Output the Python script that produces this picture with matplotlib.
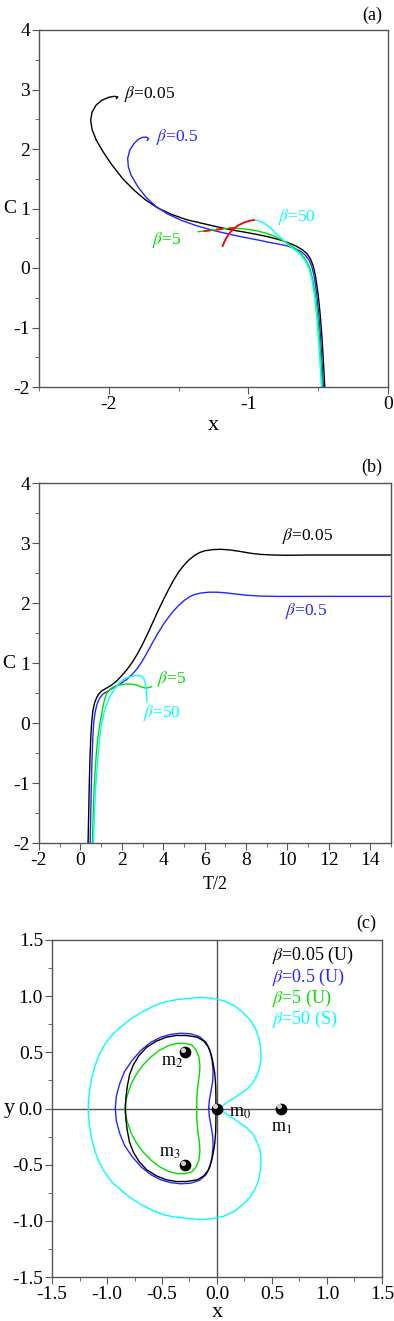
import numpy as np
import matplotlib
matplotlib.use('Agg')
import matplotlib.pyplot as plt
from matplotlib.ticker import MultipleLocator, FormatStrFormatter

plt.rcParams['font.family'] = ['Liberation Serif', 'DejaVu Serif']
plt.rcParams['mathtext.fontset'] = 'stix'
plt.rcParams['axes.unicode_minus'] = False

# --- панель (a): C от x ---
a_x_005 = [-0.453, -0.462, -0.472, -0.485, -0.500, -0.518, -0.535, -0.555, -0.58, -0.615, -0.66, -0.71,
           -0.77, -0.85, -0.93, -1.02, -1.12, -1.22, -1.33, -1.44, -1.55, -1.65, -1.74, -1.82, -1.90,
           -1.98, -2.04, -2.09, -2.12, -2.13, -2.12, -2.09, -2.05, -2.00, -1.96, -1.935, -1.945]
a_c_005 = [-2.0, -1.6, -1.2, -0.8, -0.45, -0.15, 0.03, 0.15, 0.24, 0.31, 0.37, 0.42,
           0.47, 0.52, 0.56, 0.60, 0.64, 0.69, 0.75, 0.81, 0.90, 1.01, 1.15, 1.31, 1.50,
           1.74, 1.95, 2.15, 2.33, 2.48, 2.62, 2.74, 2.82, 2.87, 2.885, 2.875, 2.85]

a_x_05 = [-0.463, -0.472, -0.482, -0.495, -0.51, -0.528, -0.545, -0.565, -0.59, -0.625, -0.67, -0.72,
          -0.78, -0.85, -0.93, -1.02, -1.12, -1.25, -1.37, -1.48, -1.58, -1.66, -1.73, -1.79, -1.84,
          -1.86, -1.865, -1.85, -1.82, -1.79, -1.76, -1.73, -1.715, -1.725]
a_c_05 = [-2.0, -1.6, -1.2, -0.8, -0.45, -0.15, 0.02, 0.13, 0.21, 0.28, 0.33, 0.37,
          0.40, 0.43, 0.47, 0.51, 0.56, 0.63, 0.71, 0.80, 0.91, 1.03, 1.18, 1.36, 1.56,
          1.70, 1.84, 1.98, 2.09, 2.16, 2.195, 2.20, 2.175, 2.145]

a_x_5 = [-0.470, -0.479, -0.49, -0.503, -0.52, -0.54, -0.56, -0.585, -0.62, -0.66, -0.71, -0.76,
         -0.82, -0.88, -0.95, -1.02, -1.09, -1.16, -1.23, -1.30, -1.36]
a_c_5 = [-2.0, -1.6, -1.2, -0.8, -0.45, -0.18, 0.0, 0.12, 0.23, 0.32, 0.40, 0.47,
         0.54, 0.59, 0.63, 0.655, 0.67, 0.665, 0.645, 0.625, 0.61]

a_x_50 = [-0.477, -0.487, -0.498, -0.512, -0.527, -0.545, -0.565, -0.59, -0.625, -0.67, -0.72, -0.77,
          -0.82, -0.86, -0.90, -0.93, -0.96, -0.99, -1.03, -1.07, -1.10, -1.13, -1.155, -1.172, -1.185]
a_c_50 = [-2.0, -1.6, -1.2, -0.8, -0.45, -0.2, -0.02, 0.11, 0.22, 0.31, 0.40, 0.51,
          0.62, 0.71, 0.77, 0.80, 0.805, 0.795, 0.765, 0.72, 0.67, 0.60, 0.52, 0.44, 0.37]

# --- панель (b): C от T/2 ---
b_t_005 = [0.37, 0.40, 0.43, 0.46, 0.50, 0.54, 0.60, 0.68, 0.78, 0.90, 1.05, 1.25, 1.5, 1.75, 2.0,
           2.25, 2.5, 2.75, 3.0, 3.25, 3.5, 3.75, 4.0, 4.25, 4.5, 4.75, 5.0, 5.25, 5.5, 5.75, 6.0,
           6.4, 6.8, 7.2, 7.7, 8.2, 8.7, 9.3, 10.0, 11.0, 12.5, 15.0]
b_c_005 = [-2.0, -1.5, -1.0, -0.6, -0.25, 0.0, 0.20, 0.33, 0.42, 0.49, 0.54, 0.58, 0.63, 0.70, 0.79,
           0.89, 1.01, 1.15, 1.31, 1.49, 1.68, 1.87, 2.05, 2.22, 2.38, 2.52, 2.63, 2.72, 2.79, 2.84, 2.87,
           2.89, 2.895, 2.885, 2.86, 2.83, 2.81, 2.80, 2.795, 2.80, 2.80, 2.80]

b_t_05 = [0.47, 0.50, 0.53, 0.56, 0.60, 0.64, 0.71, 0.80, 0.92, 1.08, 1.27, 1.5, 1.75, 2.0, 2.25,
          2.5, 2.75, 3.0, 3.25, 3.5, 3.75, 4.0, 4.25, 4.5, 4.75, 5.0, 5.25, 5.5, 5.8, 6.2, 6.6, 7.0,
          7.5, 8.0, 8.7, 9.5, 11.0, 13.0, 15.0]
b_c_05 = [-2.0, -1.5, -1.0, -0.6, -0.25, 0.0, 0.18, 0.31, 0.41, 0.48, 0.52, 0.57, 0.62, 0.67, 0.73,
          0.81, 0.91, 1.04, 1.19, 1.35, 1.50, 1.64, 1.76, 1.87, 1.96, 2.04, 2.10, 2.14, 2.165, 2.18, 2.18,
          2.17, 2.15, 2.13, 2.115, 2.11, 2.11, 2.11, 2.11]

b_t_5 = [0.58, 0.62, 0.66, 0.71, 0.77, 0.85, 0.95, 1.05, 1.15, 1.27, 1.45, 1.65, 1.9, 2.2, 2.5,
         2.75, 2.95, 3.1, 3.25, 3.44]
b_c_5 = [-2.0, -1.5, -1.1, -0.8, -0.5, -0.22, 0.0, 0.2, 0.37, 0.5, 0.57, 0.61, 0.635, 0.65, 0.645,
         0.63, 0.60, 0.585, 0.585, 0.605]

b_t_50 = [0.63, 0.68, 0.73, 0.79, 0.86, 0.94, 1.03, 1.13, 1.27, 1.43, 1.65, 1.92, 2.15, 2.41, 2.65,
          2.85, 2.97, 3.06, 3.12, 3.16, 3.19, 3.21]
b_c_50 = [-2.0, -1.5, -1.1, -0.83, -0.5, -0.22, 0.0, 0.16, 0.31, 0.44, 0.57, 0.68, 0.74, 0.77, 0.79,
          0.79, 0.775, 0.74, 0.68, 0.60, 0.48, 0.36]

# --- панель (c): орбиты (верхняя половина, нижняя симметрична) ---
c_x_005 = [-0.01, -0.01, -0.012, -0.02, -0.035, -0.05, -0.08, -0.12, -0.18, -0.28, -0.37, -0.46,
           -0.55, -0.64, -0.71, -0.76, -0.795, -0.815, -0.828, -0.832]
c_y_005 = [0.0, 0.10, 0.20, 0.31, 0.40, 0.47, 0.55, 0.60, 0.635, 0.65, 0.65, 0.635,
           0.60, 0.545, 0.47, 0.39, 0.30, 0.20, 0.10, 0.0]

c_x_05 = [-0.075, -0.07, -0.055, -0.04, -0.035, -0.045, -0.065, -0.10, -0.16, -0.24, -0.33, -0.42,
          -0.51, -0.60, -0.69, -0.77, -0.84, -0.885, -0.915, -0.925]
c_y_05 = [0.0, 0.07, 0.15, 0.24, 0.33, 0.43, 0.52, 0.59, 0.64, 0.665, 0.67, 0.66,
          0.635, 0.59, 0.52, 0.43, 0.33, 0.22, 0.11, 0.0]

c_x_5 = [-0.185, -0.183, -0.175, -0.16, -0.155, -0.165, -0.19, -0.23, -0.29, -0.36, -0.44, -0.52,
         -0.60, -0.67, -0.73, -0.78, -0.815, -0.835, -0.84]
c_y_5 = [0.0, 0.10, 0.20, 0.30, 0.38, 0.46, 0.52, 0.565, 0.58, 0.58, 0.56, 0.52,
         0.46, 0.39, 0.31, 0.22, 0.12, 0.04, 0.0]

c_x_50 = [0.027, 0.06, 0.10, 0.15, 0.21, 0.27, 0.32, 0.36, 0.39, 0.40, 0.395, 0.38, 0.35, 0.30,
          0.23, 0.15, 0.06, -0.04, -0.14, -0.25, -0.36, -0.47, -0.58, -0.68, -0.78, -0.87, -0.95,
          -1.02, -1.07, -1.11, -1.14, -1.16, -1.17, -1.17]
c_y_50 = [0.0, 0.03, 0.06, 0.09, 0.13, 0.17, 0.22, 0.29, 0.37, 0.46, 0.55, 0.63, 0.71, 0.79,
          0.86, 0.92, 0.96, 0.98, 0.99, 0.98, 0.97, 0.95, 0.91, 0.86, 0.80, 0.73, 0.66,
          0.57, 0.48, 0.38, 0.27, 0.15, 0.05, 0.0]

bodies_x = [0.0, 0.58, -0.29, -0.29]
bodies_y = [0.0, 0.0, 0.5, -0.5]
bodies_lbl = ['m$_0$', 'm$_1$', 'm$_2$', 'm$_3$']

W, H = 394, 1321
fig = plt.figure(figsize=(W / 100, H / 100), dpi=100)


def box(l, r, t, b):
    return [l / W, (H - b) / H, (r - l) / W, (b - t) / H]


def style(ax, xmaj, xmin, ymaj, ymin):
    ax.xaxis.set_major_locator(MultipleLocator(xmaj))
    ax.xaxis.set_minor_locator(MultipleLocator(xmin))
    ax.yaxis.set_major_locator(MultipleLocator(ymaj))
    ax.yaxis.set_minor_locator(MultipleLocator(ymin))
    for s in ax.spines.values():
        s.set_color('#555555')
        s.set_linewidth(1.0)
    ax.tick_params(which='both', direction='out', color='#555555', labelsize=14,
                   top=False, right=False, pad=1.5)
    ax.tick_params(which='major', length=5)
    ax.tick_params(which='minor', length=3)


lw = 1.0
txt = 12.5
BLUE = '#2525ff'
GREEN = '#00dd00'

# (a)
ax1 = fig.add_axes(box(39, 388, 30, 387))
ax1.plot(a_x_005, a_c_005, color='black', lw=lw)
ax1.plot(a_x_05, a_c_05, color=BLUE, lw=lw)
ax1.plot(a_x_5, a_c_5, color=GREEN, lw=lw)
ax1.plot(a_x_50, a_c_50, color='cyan', lw=lw)
# красные участки
ax1.plot(a_x_50[16:], a_c_50[16:], color='red', lw=1.3)
ax1.plot(a_x_5[16:], a_c_5[16:], color='red', lw=1.3, dashes=(4, 3))
ax1.set_xlim(-2.5, 0)
ax1.set_ylim(-2, 4)
style(ax1, 1, 0.5, 1, 0.5)
ax1.set_xlabel('x', fontsize=16, va='baseline')
ax1.xaxis.set_label_coords(0.5, -0.12)
ax1.set_ylabel('C', fontsize=14, rotation=0, va='center')
ax1.yaxis.set_label_coords(-0.085, 0.5)
ax1.text(-1.89, 2.93, r'$\beta$=0.05', color='black', fontsize=txt, va='center')
ax1.text(-1.66, 2.21, r'$\beta$=0.5', color=BLUE, fontsize=txt, va='center')
ax1.text(-0.79, 0.86, r'$\beta$=50', color='cyan', fontsize=txt, va='center')
ax1.text(-1.69, 0.47, r'$\beta$=5', color=GREEN, fontsize=txt, va='center')
fig.text(372 / W, 1 - 15 / H, '(a)', fontsize=13, ha='center', va='center')

# (b)
ax2 = fig.add_axes(box(39, 391, 483, 843))
ax2.plot(b_t_005, b_c_005, color='black', lw=lw)
ax2.plot(b_t_05, b_c_05, color=BLUE, lw=lw)
ax2.plot(b_t_5, b_c_5, color=GREEN, lw=lw)
ax2.plot(b_t_50, b_c_50, color='cyan', lw=lw)
ax2.set_xlim(-2, 15)
ax2.set_ylim(-2, 4)
style(ax2, 2, 1, 1, 0.5)
ax2.set_xlabel('T/2', fontsize=13, va='baseline')
ax2.xaxis.set_label_coords(0.5, -0.127)
ax2.set_ylabel('C', fontsize=14, rotation=0, va='center')
ax2.yaxis.set_label_coords(-0.085, 0.5)
ax2.text(9.75, 3.11, r'$\beta$=0.05', color='black', fontsize=txt, va='center')
ax2.text(9.9, 1.86, r'$\beta$=0.5', color=BLUE, fontsize=txt, va='center')
ax2.text(3.7, 0.73, r'$\beta$=5', color=GREEN, fontsize=txt, va='center')
ax2.text(3.0, 0.16, r'$\beta$=50', color='cyan', fontsize=txt, va='center')
fig.text(372 / W, 1 - 467 / H, '(b)', fontsize=13, ha='center', va='center')

# (c)
ax3 = fig.add_axes(box(52, 382, 940, 1277))
ax3.axhline(0, color='#555555', lw=1.0, zorder=1)
ax3.axvline(0, color='#555555', lw=1.0, zorder=1)
for xs, ys, col in [(c_x_50, c_y_50, 'cyan'), (c_x_05, c_y_05, BLUE),
                    (c_x_5, c_y_5, GREEN), (c_x_005, c_y_005, 'black')]:
    xx = np.concatenate([xs, xs[::-1]])
    yy = np.concatenate([ys, -np.array(ys[::-1])])
    ax3.plot(xx, yy, color=col, lw=lw, zorder=2)
ax3.scatter(bodies_x, bodies_y, s=55, color='black', zorder=5)
ax3.scatter(np.array(bodies_x) - 0.015, np.array(bodies_y) + 0.018, s=7, color='#d0d0d0', zorder=6)
lbl_pos = [(0.21, -0.04), (0.59, -0.165), (-0.41, 0.42), (-0.43, -0.39)]
for (lx, ly), s in zip(lbl_pos, bodies_lbl):
    ax3.text(lx, ly, s, fontsize=13, ha='center', va='center')
ax3.set_xlim(-1.5, 1.5)
ax3.set_ylim(-1.5, 1.5)
style(ax3, 0.5, 0.25, 0.5, 0.25)
ax3.xaxis.set_major_formatter(FormatStrFormatter('%.1f'))
ax3.yaxis.set_major_formatter(FormatStrFormatter('%.1f'))
ax3.set_xlabel('x', fontsize=16, va='baseline')
ax3.xaxis.set_label_coords(0.5, -0.118)
ax3.set_ylabel('y', fontsize=16, rotation=0, va='center')
ax3.yaxis.set_label_coords(-0.13, 0.5)
leg = [(r'$\beta$=0.05 (U)', 'black'), (r'$\beta$=0.5 (U)', BLUE),
       (r'$\beta$=5 (U)', GREEN), (r'$\beta$=50 (S)', 'cyan')]
for i, (s, col) in enumerate(leg):
    ax3.text(0.5, 1.36 - 0.19 * i, s, color=col, fontsize=13, va='center')
fig.text(366 / W, 1 - 923 / H, '(c)', fontsize=13, ha='center', va='center')

fig.savefig('out.png', dpi=100)
